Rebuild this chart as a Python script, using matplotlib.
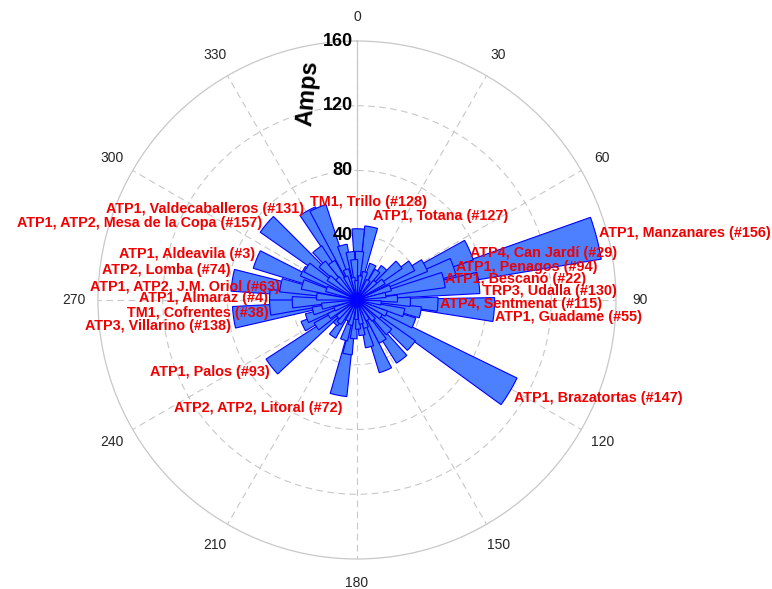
import numpy as np
import matplotlib
matplotlib.use("Agg")
import matplotlib.pyplot as plt

plt.rcParams['font.family'] = ['Liberation Sans', 'DejaVu Sans']

# Labelled substations: bearing in degrees (clockwise from north) and amplitude in amps
station_names = [
    'ATP1, Manzanares (#156)', 'ATP4, Can Jardí (#29)', 'ATP1, Penagos (#94)',
    'ATP1, Bescanó (#22)', 'TRP3, Udalla (#130)', 'ATP4, Sentmenat (#115)',
    'ATP1, Guadame (#55)', 'ATP1, Brazatortas (#147)', 'ATP1, Totana (#127)',
    'TM1, Trillo (#128)', 'ATP1, Valdecaballeros (#131)',
    'ATP1, ATP2, Mesa de la Copa (#157)', 'ATP1, Aldeavila (#3)', 'ATP2, Lomba (#74)',
    'ATP1, ATP2, J.M. Oriol (#63)', 'ATP1, Almaraz (#4)', 'TM1, Cofrentes (#38)',
    'ATP3, Villarino (#138)', 'ATP1, Palos (#93)', 'ATP2, ATP2, Litoral (#72)',
]
station_bearing = [75.5, 66, 71, 77, 82, 93, 94, 121, 11, 337, 331, 310, 292, 279,
                   281, 272, 265, 262, 232, 191]
station_amps = [153, 76, 63, 55, 76, 50, 85, 110, 46, 62, 63, 73, 67, 78,
                48, 54, 54, 77, 67, 60]

# Remaining substations
other_bearing = [1, 3, 24, 35, 40, 50, 58, 63, 88, 92, 101, 105, 112, 130, 135, 143,
                 148, 158, 165, 172, 178, 185, 190, 198, 214, 222, 237, 244, 250, 256,
                 268, 286, 298, 303, 316, 322, 326, 345, 352, 356,
                 8, 16, 30, 45, 55, 70, 80, 97, 115, 125, 140, 152, 162, 170, 182,
                 195, 205, 218, 228, 240, 248, 260, 275, 290, 308, 318, 334, 340, 350, 358]
other_amps = [44, 30, 24, 22, 26, 34, 40, 47, 25, 33, 40, 30, 38, 44, 28, 46,
              30, 47, 30, 22, 18, 24, 34, 26, 27, 20, 30, 37, 33, 28,
              40, 35, 38, 37, 31, 40, 28, 35, 30, 25,
              15, 18, 14, 16, 20, 22, 18, 15, 20, 18, 16, 14, 18, 15, 12,
              16, 14, 18, 16, 20, 15, 22, 25, 20, 22, 18, 16, 20, 14, 12]

# Label placement relative to each bar tip (pixels) and horizontal alignment
label_dx = [2, 1, 3, 1, 4, 2, 1, 4, 2, -8, -3, -4, -1, -2, -1, -2, -1, -3, -2, 4]
label_dy = [5, -3, 0, 1, -8, 0, -7, -6, 11, 6, 2, 1, 5, 10, -2, -1, -5, -9, -5, -13]
label_ha = ['left'] * 10 + ['right'] * 10

r_ticks = [40, 80, 120, 160]
theta_ticks = list(range(0, 360, 30))

bearing = np.deg2rad(np.array(station_bearing + other_bearing, dtype=float))
amps = np.array(station_amps + other_amps, dtype=float)
order = np.argsort(-amps, kind='stable')

fig = plt.figure(figsize=(7.72, 5.89), dpi=100)
ax = fig.add_axes([0.12694, 0.05093, 0.67098, 0.87946], projection='polar')
ax.set_theta_zero_location('N')
ax.set_theta_direction(-1)
ax.set_ylim(0, 160)
ax.set_axisbelow(True)

grid_color = '#c8c8c8'
ax.set_rticks(r_ticks[:-1])
ax.set_yticklabels([])
ax.set_thetagrids(theta_ticks, labels=[str(t) for t in theta_ticks],
                  fontsize=10, color='#262626')
ax.tick_params(axis='x', pad=7)
ax.grid(True, color=grid_color, linestyle=(0, (6, 4)), linewidth=0.8)
ax.spines['polar'].set_color(grid_color)
ax.spines['polar'].set_linewidth(0.9)
# solid radial axis along 0 degrees
ax.plot([0, 0], [0, 160], color=grid_color, linewidth=0.9, zorder=0.5)

ax.bar(bearing[order], amps[order], width=np.deg2rad(10), bottom=0,
       color='#4d80ff', edgecolor='#0000ff', linewidth=0.8, align='center', zorder=2)

for i, name in enumerate(station_names):
    ax.annotate(name, xy=(np.deg2rad(station_bearing[i]), station_amps[i]),
                xytext=(label_dx[i], label_dy[i]), textcoords='offset pixels',
                ha=label_ha[i], va='center', color='#f00000', fontsize=10.4,
                fontweight='bold', zorder=5, annotation_clip=False)

for r in r_ticks:
    ax.annotate(str(r), xy=(0, r), xytext=(-4, 0), textcoords='offset pixels',
                ha='right', va='center', fontsize=13, fontweight='bold',
                color='black', zorder=6)

ax.text(0.405, 0.90, 'Amps', transform=ax.transAxes, rotation=85, fontsize=17,
        fontweight='bold', ha='center', va='center', zorder=6)

fig.savefig('out.png', dpi=100)
